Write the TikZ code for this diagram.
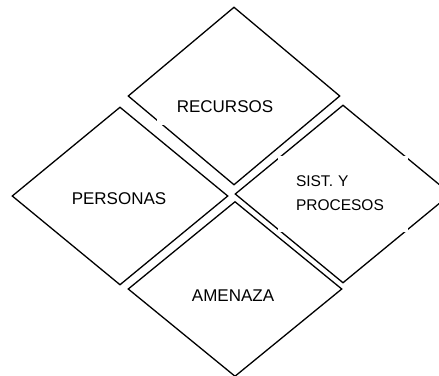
\documentclass[tikz,border=0pt]{standalone}
\usepackage{fontspec}
\setmainfont{Liberation Sans}
\usetikzlibrary{shapes.geometric, positioning}

\begin{document}
\begin{tikzpicture}[x=1pt, y=-1pt]
\tikzstyle{area} = [diamond, draw, line width=1.3pt, inner sep=0pt, minimum width=212pt, minimum height=178pt]
\tikzstyle{txt} = [inner sep=0pt, font=\fontsize{17}{20}\selectfont]
\tikzstyle{txtbox} = [rectangle, draw=white, line width=3pt, inner ysep=0pt]

\useasboundingbox (0,0) rectangle (439,375);
\clip (0,0) rectangle (439,375);

% rombos
\node[area] (recursos) at (234,96) {};
\node[area, minimum width=216pt] (personas) at (120,196) {};
\node[area, minimum width=216pt] (sist) at (343,194) {};
\node[area, minimum width=214pt, minimum height=175pt] (amenaza) at (235,289) {};

% textos
\node[txt, txtbox, minimum width=134pt, minimum height=32pt] (reclbl) at (225,107) {RECURSOS};
\node[txt] (perlbl) at (119,199) {PERSONAS};
\node[txtbox, font=\fontsize{15.5}{24}\selectfont, text width=93pt, align=left, inner xsep=17pt, minimum height=73pt] (sistlbl) at (342.5,193.5) {SIST. Y\\PROCESOS};
\node[txt] (amelbl) at (233,296) {AMENAZA};
\end{tikzpicture}
\end{document}
